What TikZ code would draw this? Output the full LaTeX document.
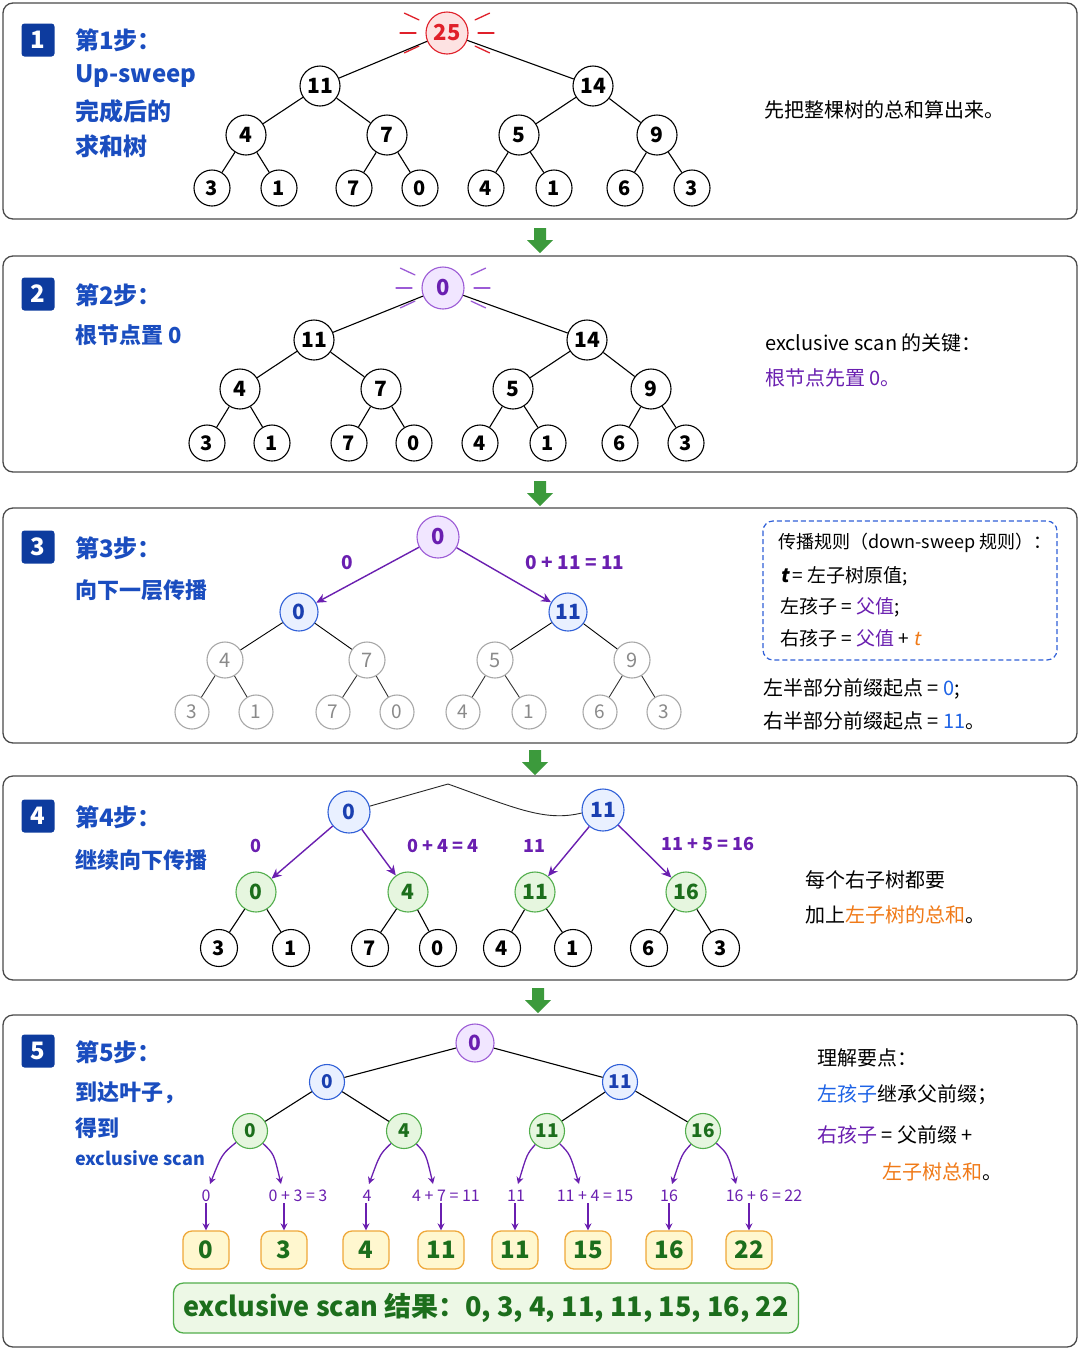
\documentclass[tikz,border=0pt]{standalone}
\usepackage{fontspec}
\setmainfont{Noto Sans CJK SC}
\newfontfamily\slfont{Noto Sans CJK SC}[FakeSlant=0.2]
\usetikzlibrary{arrows.meta}
\definecolor{panelc}{HTML}{4A4A4A}
\definecolor{badgec}{HTML}{0D3B9E}
\definecolor{headc}{HTML}{1A4DBF}
\definecolor{purc}{HTML}{6A1FB0}
\definecolor{purfill}{HTML}{F1E6FF}
\definecolor{purdraw}{HTML}{9C5BD6}
\definecolor{redc}{HTML}{E0202A}
\definecolor{redfill}{HTML}{FDE2E2}
\definecolor{bluefill}{HTML}{E9F0FF}
\definecolor{bluedraw}{HTML}{3060D8}
\definecolor{bluetext}{HTML}{1A3FB0}
\definecolor{brightblue}{HTML}{1E63E6}
\definecolor{greenfill}{HTML}{E6F6DF}
\definecolor{greendraw}{HTML}{52AE4C}
\definecolor{greentext}{HTML}{1C6E1C}
\definecolor{grayd}{HTML}{A8A8A8}
\definecolor{grayt}{HTML}{8A8A8A}
\definecolor{orangec}{HTML}{F07A18}
\definecolor{leaffill}{HTML}{FFF7CF}
\definecolor{leafdraw}{HTML}{EFA83A}
\definecolor{resfill}{HTML}{EDF8E6}
\definecolor{arrowc}{HTML}{3C9A3C}
\newcommand\myfs[1]{\fontsize{#1}{#1}\selectfont}
\newcommand\downarr[2]{\fill[arrowc] (#1-6,#2) -- (#1+6,#2) -- (#1+6,#2+12) -- (#1+13,#2+12) -- (#1,#2+25) -- (#1-13,#2+12) -- (#1-6,#2+12) -- cycle;}
\begin{document}
\begin{tikzpicture}[x=1pt,y=-1pt,
  panel/.style={draw=panelc, line width=1.3pt, rounded corners=10pt, fill=white},
  badge/.style={fill=badgec, text=white, minimum size=33pt, inner sep=0pt, rounded corners=3pt, font=\myfs{24}\bfseries},
  head/.style={anchor=west, text=headc, font=\myfs{24}\bfseries, inner sep=0pt},
  subone/.style={anchor=west, text=headc, font=\myfs{24}\bfseries, inner sep=0pt},
  sub/.style={anchor=west, text=headc, font=\myfs{22}\bfseries, inner sep=0pt},
  nd/.style={circle, draw=black, line width=1.1pt, fill=white, minimum size=40pt, inner sep=0pt, font=\myfs{21}\bfseries},
  lf/.style={nd, minimum size=36pt, font=\myfs{20}\bfseries},
  redroot/.style={nd, draw=redc, fill=redfill, text=redc, minimum size=42pt, font=\myfs{22}\bfseries},
  purroot/.style={nd, draw=purdraw, fill=purfill, text=purc, minimum size=42pt, font=\myfs{22}\bfseries},
  bluend/.style={nd, draw=bluedraw, fill=bluefill, text=bluetext},
  greennd/.style={nd, draw=greendraw, fill=greenfill, text=greentext},
  graynd/.style={nd, draw=grayd, text=grayt, font=\myfs{20}},
  edge/.style={line width=1.1pt, draw=black},
  ray/.style={line width=1.3pt, line cap=round},
  parr/.style={draw=purc, line width=1.4pt, -{Stealth[length=10pt,width=9pt]}},
  sarr/.style={draw=purc, line width=1.3pt, -{Stealth[length=7pt,width=7pt]}},
  plab/.style={text=purc, font=\myfs{19}\bfseries, inner sep=1pt},
  slab/.style={text=purc, font=\myfs{16}, inner sep=1pt},
  rt/.style={anchor=west, font=\myfs{20}, inner sep=0pt},
  leafbox/.style={rounded corners=9pt, draw=leafdraw, fill=leaffill, line width=1.3pt, minimum height=38pt, minimum width=46pt, inner sep=2pt, text=greentext, font=\myfs{24}\bfseries}
]
\fill[white] (0,0) rectangle (1080,1350);
\useasboundingbox (0,0) rectangle (1080,1350);

% ---------------- panels and step arrows
\draw[panel] (3,3) rectangle (1077,219);
\draw[panel] (3,256) rectangle (1077,472);
\draw[panel] (3,508) rectangle (1077,743);
\draw[panel] (3,776) rectangle (1077,980);
\draw[panel] (3,1015) rectangle (1077,1347);
\downarr{540}{228}
\downarr{540}{481}
\downarr{535}{750}
\downarr{538}{988}

% ---------------- panel 1
\node[badge] (b1) at (38,40) {1};
\node[head] (h1) at (75,40) {第1步：};
\node[subone] (s1a) at (75,76) {Up-sweep};
\node[subone] (s1b) at (75,111) {完成后的};
\node[subone] (s1c) at (75,146) {求和树};
\node[redroot] (p1r) at (447,33) {25};
\foreach \a in {-25,0,25}{
  \draw[ray, redc] (p1r.center) ++(\a:31) -- ++(\a:16);
  \draw[ray, redc] (p1r.center) ++(180+\a:31) -- ++(180+\a:16);
}
\node[nd] (p1a) at (320,86) {11};
\node[nd] (p1b) at (593,86) {14};
\node[nd] (p1c) at (246,135) {4};
\node[nd] (p1d) at (387,135) {7};
\node[nd] (p1e) at (519,135) {5};
\node[nd] (p1f) at (657,135) {9};
\foreach \x/\v [count=\i] in {212/3,279/1,354/7,420/0,486/4,554/1,625/6,692/3}
  \node[lf] (p1l\i) at (\x,188) {\v};
\draw[edge] (p1r) -- (p1a);
\draw[edge] (p1r) -- (p1b);
\draw[edge] (p1a) -- (p1c);
\draw[edge] (p1a) -- (p1d);
\draw[edge] (p1b) -- (p1e);
\draw[edge] (p1b) -- (p1f);
\foreach \i/\p in {1/c,2/c,3/d,4/d,5/e,6/e,7/f,8/f}
  \draw[edge] (p1\p) -- (p1l\i);
\node[rt] (t1) at (764,110) {先把整棵树的总和算出来。};

% ---------------- panel 2
\node[badge] (b2) at (38,294) {2};
\node[head] (h2) at (75,295) {第2步：};
\node[sub] (s2a) at (75,335) {根节点置 0};
\node[purroot] (p2r) at (443,288) {0};
\foreach \a in {-25,0,25}{
  \draw[ray, purdraw] (p2r.center) ++(\a:31) -- ++(\a:16);
  \draw[ray, purdraw] (p2r.center) ++(180+\a:31) -- ++(180+\a:16);
}
\node[nd] (p2a) at (314,340) {11};
\node[nd] (p2b) at (587,340) {14};
\node[nd] (p2c) at (240,389) {4};
\node[nd] (p2d) at (381,389) {7};
\node[nd] (p2e) at (513,389) {5};
\node[nd] (p2f) at (651,389) {9};
\foreach \x/\v [count=\i] in {207/3,272/1,349/7,414/0,480/4,548/1,620/6,686/3}
  \node[lf] (p2l\i) at (\x,443) {\v};
\draw[edge] (p2r) -- (p2a);
\draw[edge] (p2r) -- (p2b);
\draw[edge] (p2a) -- (p2c);
\draw[edge] (p2a) -- (p2d);
\draw[edge] (p2b) -- (p2e);
\draw[edge] (p2b) -- (p2f);
\foreach \i/\p in {1/c,2/c,3/d,4/d,5/e,6/e,7/f,8/f}
  \draw[edge] (p2\p) -- (p2l\i);
\node[rt] (t2a) at (765,343) {exclusive scan 的关键：};
\node[rt, text=purc] (t2b) at (765,378) {根节点先置 0。};

% ---------------- panel 3
\node[badge] (b3) at (38,547) {3};
\node[head] (h3) at (75,548) {第3步：};
\node[sub] (s3a) at (75,590) {向下一层传播};
\node[purroot] (p3r) at (438,537) {0};
\node[bluend, minimum size=38pt] (p3a) at (299,612) {0};
\node[bluend, minimum size=38pt] (p3b) at (568,612) {11};
\node[graynd, minimum size=36pt] (p3c) at (225,660) {4};
\node[graynd, minimum size=36pt] (p3d) at (367,660) {7};
\node[graynd, minimum size=36pt] (p3e) at (495,660) {5};
\node[graynd, minimum size=36pt] (p3f) at (632,660) {9};
\foreach \x/\v [count=\i] in {192/3,256/1,333/7,397/0,463/4,529/1,600/6,664/3}
  \node[graynd, minimum size=34pt, font=\myfs{19}] (p3l\i) at (\x,712) {\v};
\draw[parr] (p3r) -- (p3a);
\draw[parr] (p3r) -- (p3b);
\node[plab] (l3a) at (347,563) {0};
\node[plab] (l3b) at (575,563) {0 + 11 = 11};
\draw[edge, line width=0.9pt] (p3a) -- (p3c);
\draw[edge, line width=0.9pt] (p3a) -- (p3d);
\draw[edge, line width=0.9pt] (p3b) -- (p3e);
\draw[edge, line width=0.9pt] (p3b) -- (p3f);
\foreach \i/\p in {1/c,2/c,3/d,4/d,5/e,6/e,7/f,8/f}
  \draw[edge, line width=0.9pt, draw=black!80] (p3\p) -- (p3l\i);
\draw[draw=bluedraw, line width=1.2pt, dash pattern=on 5pt off 3pt, rounded corners=10pt] (763,521) rectangle (1057,660);
\node[rt, font=\myfs{18}] (r3a) at (778,543) {传播规则（down-sweep 规则）：};
\node[rt, font=\myfs{19}] (r3b) at (780,576) {{\slfont\bfseries t} = 左子树原值;};
\node[rt, font=\myfs{19}] (r3c) at (780,607) {左孩子 = \textcolor{purc}{父值};};
\node[rt, font=\myfs{19}] (r3d) at (780,638) {右孩子 = \textcolor{purc}{父值} + \textcolor{orangec}{\slfont t}};
\node[rt] (r3e) at (763,689) {左半部分前缀起点 = \textcolor{brightblue}{0};};
\node[rt] (r3f) at (763,721) {右半部分前缀起点 = \textcolor{brightblue}{11}。};

% ---------------- panel 4
\node[badge] (b4) at (38,816) {4};
\node[head] (h4) at (75,817) {第4步：};
\node[sub] (s4a) at (75,860) {继续向下传播};
\node[bluend, minimum size=42pt] (q0) at (349,812) {0};
\node[bluend, minimum size=42pt] (q1) at (603,810) {11};
\coordinate (qpeak) at (448,784);
\draw[line width=0.9pt, draw=black!85] (q0) -- (qpeak) .. controls (515,808) and (545,822) .. (q1.188);
\node[greennd] (qa) at (256,892) {0};
\node[greennd] (qb) at (408,892) {4};
\node[greennd] (qc) at (535,892) {11};
\node[greennd] (qd) at (686,892) {16};
\draw[parr] (q0) -- (qa);
\draw[parr] (q0) -- (qb);
\draw[parr] (q1) -- (qc);
\draw[parr] (q1) -- (qd);
\node[plab, font=\myfs{18}\bfseries] (l4a) at (256,846) {0};
\node[plab, font=\myfs{18}\bfseries] (l4b) at (443,846) {0 + 4 = 4};
\node[plab, font=\myfs{18}\bfseries] (l4c) at (534,846) {11};
\node[plab, font=\myfs{18}\bfseries] (l4d) at (708,844) {11 + 5 = 16};
\foreach \x/\v [count=\i] in {219/3,291/1,370/7,438/0,502/4,573/1,649/6,721/3}
  \node[lf, minimum size=37pt] (q4l\i) at (\x,948) {\v};
\foreach \i/\p in {1/a,2/a,3/b,4/b,5/c,6/c,7/d,8/d}
  \draw[edge] (q\p) -- (q4l\i);
\node[rt] (r4a) at (805,880) {每个右子树都要};
\node[rt] (r4b) at (805,915) {加上\textcolor{orangec}{左子树的总和}。};

% ---------------- panel 5
\node[badge] (b5) at (38,1051) {5};
\node[head] (h5) at (75,1052) {第5步：};
\node[sub] (s5a) at (75,1093) {到达叶子，};
\node[sub] (s5b) at (75,1128) {得到};
\node[sub, font=\myfs{18}\bfseries] (s5c) at (75,1158) {exclusive scan};
\node[purroot, minimum size=38pt, font=\myfs{21}\bfseries] (r5) at (475,1043) {0};
\node[bluend, minimum size=35pt, font=\myfs{19}\bfseries] (u0) at (327,1082) {0};
\node[bluend, minimum size=35pt, font=\myfs{19}\bfseries] (u1) at (620,1082) {11};
\node[greennd, minimum size=35pt, font=\myfs{19}\bfseries] (v1) at (250,1131) {0};
\node[greennd, minimum size=35pt, font=\myfs{19}\bfseries] (v2) at (404,1131) {4};
\node[greennd, minimum size=35pt, font=\myfs{19}\bfseries] (v3) at (547,1131) {11};
\node[greennd, minimum size=35pt, font=\myfs{19}\bfseries] (v4) at (703,1131) {16};
\draw[edge] (r5) -- (u0);
\draw[edge] (r5) -- (u1);
\draw[edge] (u0) -- (v1);
\draw[edge] (u0) -- (v2);
\draw[edge] (u1) -- (v3);
\draw[edge] (u1) -- (v4);
% leaves
\foreach \x/\v [count=\i] in {206/0,284/3,366/4,441/11,515/11,588/15,669/16,749/22}
  \node[leafbox] (w\i) at (\x,1250) {\v};
% labels
\node[slab] (m1) at (206,1196) {0};
\node[slab] (m2) at (298,1196) {0 + 3 = 3};
\node[slab] (m3) at (367,1196) {4};
\node[slab] (m4) at (446,1196) {4 + 7 = 11};
\node[slab] (m5) at (516,1196) {11};
\node[slab] (m6) at (595,1196) {11 + 4 = 15};
\node[slab] (m7) at (669,1196) {16};
\node[slab] (m8) at (764,1196) {16 + 6 = 22};
% curved arrows to labels
\coordinate (e1) at (210,1184);
\coordinate (e2) at (281,1184);
\coordinate (e3) at (369,1184);
\coordinate (e4) at (433,1184);
\coordinate (e5) at (518,1184);
\coordinate (e6) at (579,1184);
\coordinate (e7) at (672,1184);
\coordinate (e8) at (736,1184);
\draw[sarr] (v1) .. controls (222,1154) .. (e1);
\draw[sarr] (v1) .. controls (274,1154) .. (e2);
\draw[sarr] (v2) .. controls (380,1154) .. (e3);
\draw[sarr] (v2) .. controls (426,1154) .. (e4);
\draw[sarr] (v3) .. controls (527,1154) .. (e5);
\draw[sarr] (v3) .. controls (570,1154) .. (e6);
\draw[sarr] (v4) .. controls (682,1154) .. (e7);
\draw[sarr] (v4) .. controls (728,1154) .. (e8);
\foreach \i in {1,...,8}
  \draw[sarr] (m\i.south -| w\i.north) -- (w\i.north);
\node[rounded corners=10pt, draw=greendraw, fill=resfill, line width=1.3pt, minimum width=625pt, minimum height=50pt, text=greentext, font=\myfs{27}\bfseries] (res) at (486,1308) {exclusive scan 结果：0, 3, 4, 11, 11, 15, 16, 22};
\node[rt] (r5a) at (817,1058) {理解要点：};
\node[rt] (r5b) at (817,1095) {\textcolor{brightblue}{左孩子}继承父前缀；};
\node[rt] (r5c) at (817,1135) {\textcolor{purc}{右孩子} = 父前缀 +};
\node[rt] (r5d) at (882,1172) {\textcolor{orangec}{左子树总和}。};
\end{tikzpicture}
\end{document}
